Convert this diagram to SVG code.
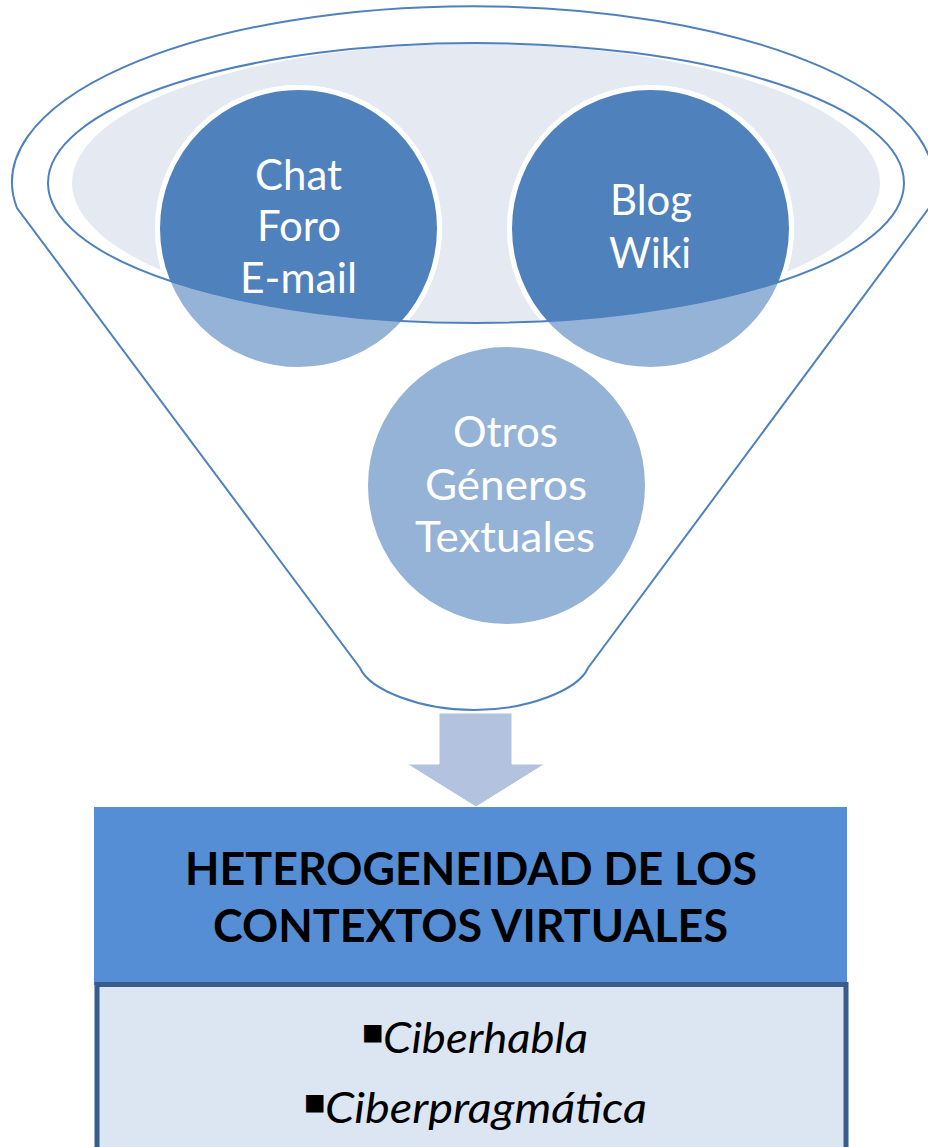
<svg xmlns="http://www.w3.org/2000/svg" width="928" height="1147" viewBox="0 0 928 1147">
  <style>
    .line { fill: none; stroke: #4F81BD; stroke-width: 2; }
    .dark { fill: #4F81BD; stroke: #FFFFFF; stroke-width: 5; }
    .light { fill: #95B3D7; stroke: #FFFFFF; stroke-width: 5; }
    .ctext { font-family: Lato, "Noto Sans", sans-serif; font-size: 42px; fill: #FFFFFF; text-anchor: middle; }
    .htext { font-family: Lato, "Noto Sans", sans-serif; font-weight: bold; font-size: 45px; fill: #000000; text-anchor: middle; }
    .itext { font-family: Lato, "Noto Sans", sans-serif; font-style: italic; font-size: 42px; fill: #000000; }
    .bullet { font-family: "DejaVu Sans", sans-serif; font-size: 35px; fill: #000000; }
  </style>
  <defs>
    <clipPath id="topEllipse">
      <ellipse cx="476" cy="183" rx="428" ry="140"/>
    </clipPath>
  </defs>
  <rect x="0" y="0" width="928" height="1147" fill="#FFFFFF"/>

  <g id="funnel">
    <ellipse cx="476" cy="183" rx="404" ry="139" fill="#E4E9F2"/>
  </g>

  <g id="node-chat">
    <circle class="light" cx="298.5" cy="228.5" r="141"/>
    <circle class="dark" cx="298.5" cy="228.5" r="141" clip-path="url(#topEllipse)"/>
  </g>
  <g id="node-blog">
    <circle class="light" cx="650.5" cy="228.5" r="141"/>
    <circle class="dark" cx="650.5" cy="228.5" r="141" clip-path="url(#topEllipse)"/>
  </g>
  <g id="node-otros">
    <circle class="light" cx="506.5" cy="485.5" r="141"/>
  </g>

  <g id="funnel-outline">
    <ellipse class="line" cx="476" cy="183" rx="428" ry="140"/>
    <path class="line" d="M17,208 A461,176 0 1 1 929,208 L588,668 C578,690 528,710 474,710 C420,710 370,690 360,668 Z"/>
  </g>

  <g id="labels">
    <text class="ctext" x="298.5" y="189.5" textLength="87" lengthAdjust="spacingAndGlyphs">Chat</text>
    <text class="ctext" x="299" y="241" textLength="84" lengthAdjust="spacingAndGlyphs">Foro</text>
    <text class="ctext" x="298.5" y="293" textLength="117" lengthAdjust="spacingAndGlyphs">E-mail</text>
    <text class="ctext" x="651" y="215" textLength="82" lengthAdjust="spacingAndGlyphs">Blog</text>
    <text class="ctext" x="650" y="268" textLength="82" lengthAdjust="spacingAndGlyphs">Wiki</text>
    <text class="ctext" x="505.5" y="447" textLength="105" lengthAdjust="spacingAndGlyphs">Otros</text>
    <text class="ctext" x="506" y="500" textLength="162" lengthAdjust="spacingAndGlyphs">Géneros</text>
    <text class="ctext" x="505" y="552" textLength="180" lengthAdjust="spacingAndGlyphs">Textuales</text>
  </g>

  <g id="connectors">
    <path d="M439,713 L512,713 L512,764 L545,764 L476,807 L407,764 L439,764 Z" fill="#B3C2DE" stroke="#FFFFFF" stroke-width="1"/>
  </g>

  <g id="node-header">
    <rect x="94" y="807" width="753" height="178" fill="#558ED5"/>
    <text class="htext" x="471" y="885" textLength="572" lengthAdjust="spacingAndGlyphs">HETEROGENEIDAD DE LOS</text>
    <text class="htext" x="470.5" y="942" textLength="515" lengthAdjust="spacingAndGlyphs">CONTEXTOS VIRTUALES</text>
  </g>

  <g id="node-list">
    <rect x="97" y="984.5" width="749" height="175" fill="#DCE6F2" stroke="#385D8A" stroke-width="5"/>
    <text x="361" y="1053"><tspan class="bullet" dy="-10">▪</tspan><tspan class="itext" x="383" dy="10" textLength="205" lengthAdjust="spacingAndGlyphs">Ciberhabla</tspan></text>
    <text x="303" y="1123"><tspan class="bullet" dy="-10">▪</tspan><tspan class="itext" x="325" dy="10" textLength="322" lengthAdjust="spacingAndGlyphs">Ciberpragmática</tspan></text>
  </g>
</svg>
